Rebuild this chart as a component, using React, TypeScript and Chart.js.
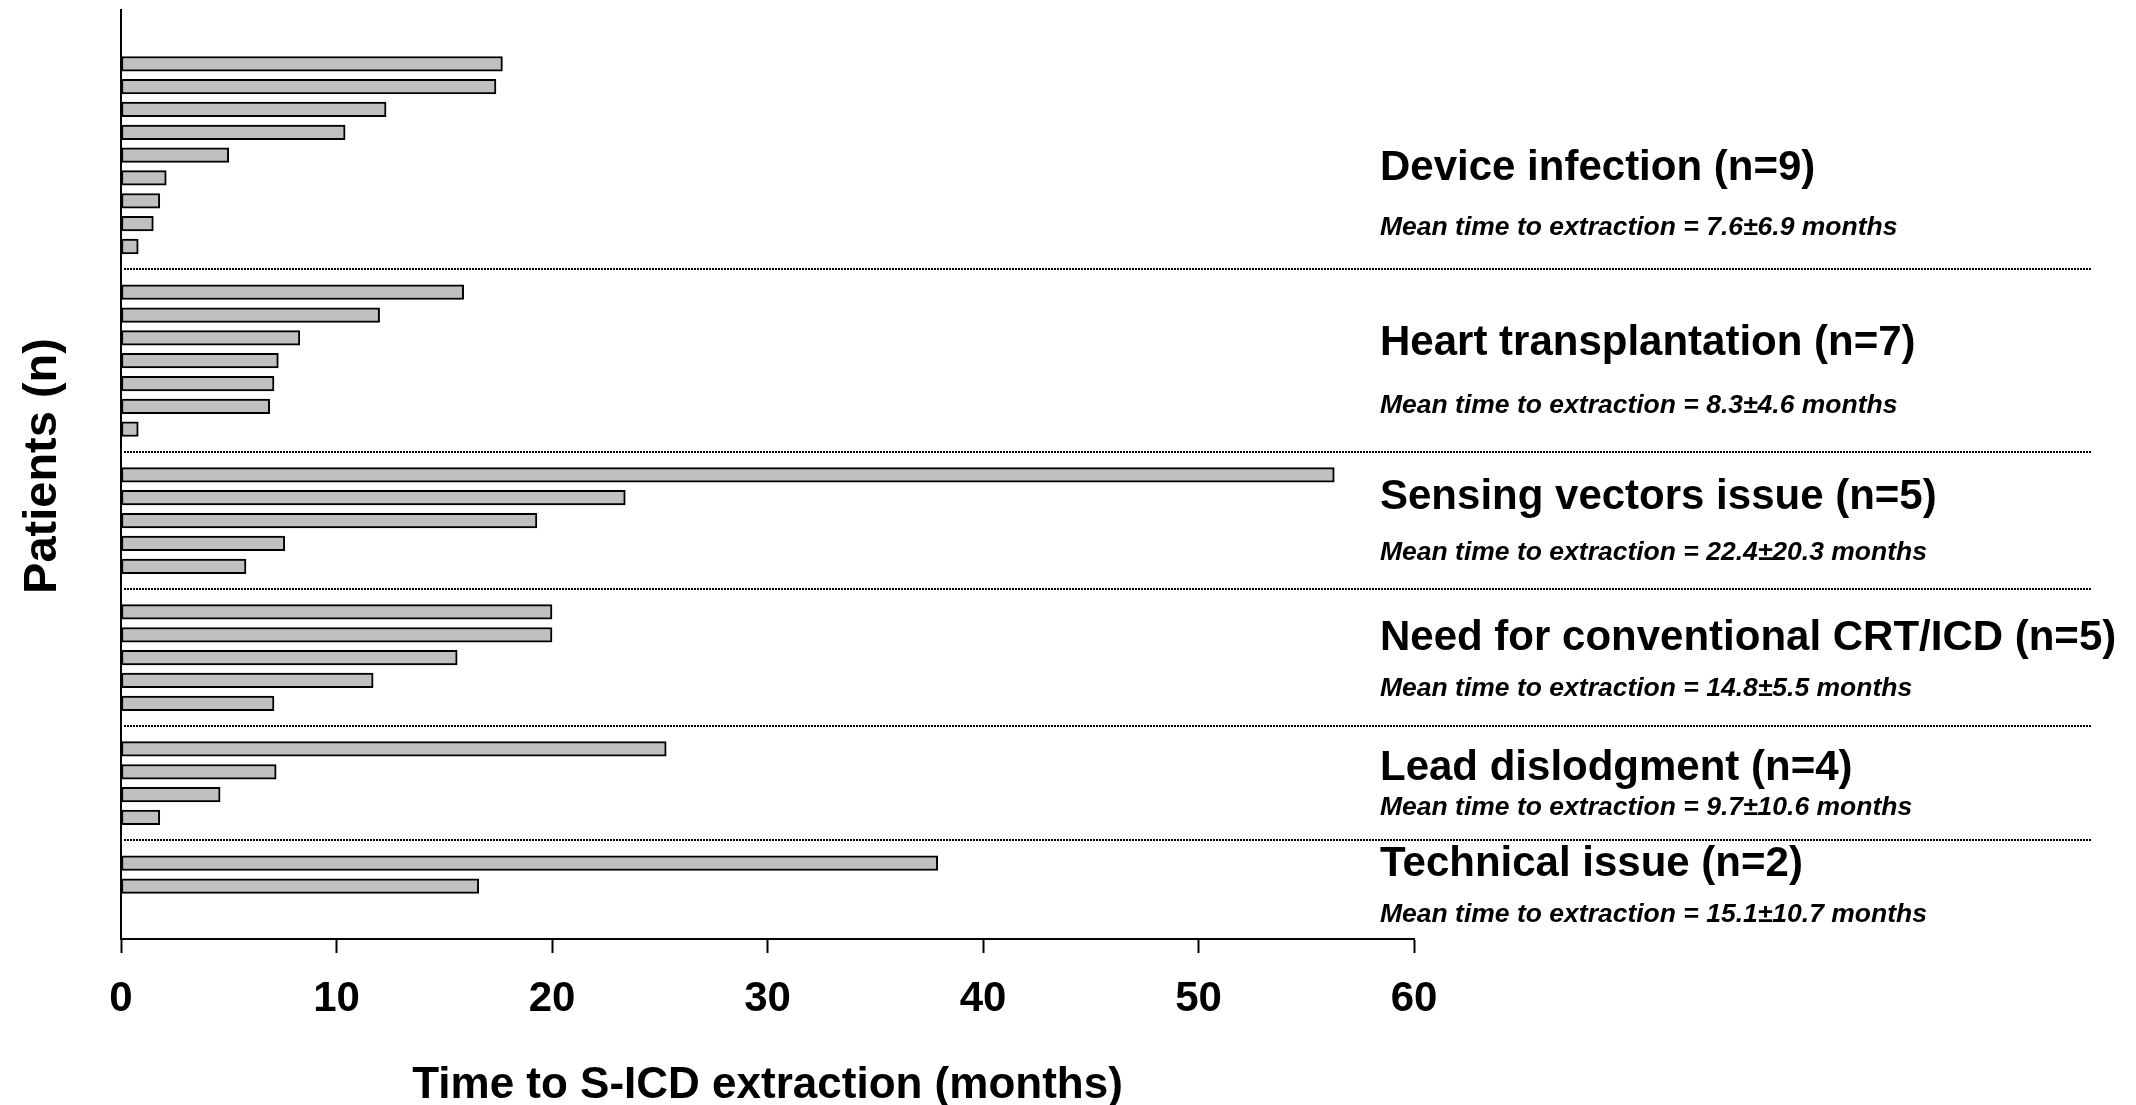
import React, { useEffect, useRef } from "react";
import { Chart, registerables } from "chart.js";

Chart.register(...registerables);

// ---------- data ----------
const groupTitles = [
  "Device infection (n=9)",
  "Heart transplantation (n=7)",
  "Sensing vectors issue (n=5)",
  "Need for conventional CRT/ICD (n=5)",
  "Lead dislodgment (n=4)",
  "Technical issue (n=2)",
];

const meanLabels = [
  "Mean time to extraction = 7.6±6.9 months",
  "Mean time to extraction = 8.3±4.6 months",
  "Mean time to extraction = 22.4±20.3 months",
  "Mean time to extraction = 14.8±5.5 months",
  "Mean time to extraction = 9.7±10.6 months",
  "Mean time to extraction = 15.1±10.7 months",
];

const deviceInfection = [17.7, 17.4, 12.3, 10.4, 5.0, 2.1, 1.8, 1.5, 0.8];
const heartTransplantation = [15.9, 12.0, 8.3, 7.3, 7.1, 6.9, 0.8];
const sensingVectorsIssue = [56.3, 23.4, 19.3, 7.6, 5.8];
const conventionalCrtIcd = [20.0, 20.0, 15.6, 11.7, 7.1];
const leadDislodgment = [25.3, 7.2, 4.6, 1.8];
const technicalIssue = [37.9, 16.6];

const xTickValues = [0, 10, 20, 30, 40, 50, 60];

const xAxisTitle = "Time to S-ICD extraction (months)";
const yAxisTitle = "Patients (n)";

// ---------- layout (not data) ----------
const W = 2136;
const H = 1105;
const PLOT_LEFT = 121;
const PLOT_RIGHT = 1414;
const PLOT_TOP = 10;
const PLOT_BOTTOM = 939;
const ROWS_ABOVE = 2.355;
const ROWS_BELOW = 2.32;
const TEXT_X = 1380;
const SEP_RIGHT = 2092;
const Y_TITLE_X = 43;
const Y_TITLE_Y = 466;
const titleCenterY = [168, 343, 497, 638, 768, 864];
const meanCenterY = [228, 406, 553, 689, 808, 915];
const FONT = "'Liberation Sans', Arial, Helvetica, sans-serif";

const groups = [
  deviceInfection,
  heartTransplantation,
  sensingVectorsIssue,
  conventionalCrtIcd,
  leadDislodgment,
  technicalIssue,
];

function buildRows() {
  const points: { x: number; y: number }[] = [];
  const separators: number[] = [];
  let row = 0;
  groups.forEach((g, gi) => {
    g.forEach((v) => {
      points.push({ x: v, y: row });
      row++;
    });
    if (gi < groups.length - 1) {
      separators.push(row);
      row++;
    }
  });
  return { points, separators, lastRow: row - 1 };
}

export default function App() {
  const canvasRef = useRef<HTMLCanvasElement | null>(null);

  useEffect(() => {
    const canvas = canvasRef.current;
    if (!canvas) return;
    const { points, separators, lastRow } = buildRows();
    const yMin = -ROWS_ABOVE;
    const yMax = lastRow + ROWS_BELOW;

    const annotationPlugin = {
      id: "groupAnnotations",
      afterDraw(chart: any) {
        const { ctx } = chart;
        const ys = chart.scales.y;
        ctx.save();
        // dotted group separators
        ctx.strokeStyle = "#000";
        ctx.lineWidth = 2;
        ctx.setLineDash([2, 1]);
        separators.forEach((r) => {
          const py = Math.round(ys.getPixelForValue(r));
          ctx.beginPath();
          ctx.moveTo(Math.round(chart.chartArea.left) + 3, py);
          ctx.lineTo(SEP_RIGHT, py);
          ctx.stroke();
        });
        ctx.setLineDash([]);
        // group labels
        ctx.fillStyle = "#000";
        ctx.textAlign = "left";
        ctx.textBaseline = "middle";
        groupTitles.forEach((t, i) => {
          ctx.font = `bold 42px ${FONT}`;
          ctx.fillText(t, TEXT_X, titleCenterY[i]);
          ctx.font = `italic bold 26.5px ${FONT}`;
          ctx.fillText(meanLabels[i], TEXT_X, meanCenterY[i]);
        });
        // y axis title
        ctx.translate(Y_TITLE_X, Y_TITLE_Y);
        ctx.rotate(-Math.PI / 2);
        ctx.textAlign = "center";
        ctx.font = `bold 47px ${FONT}`;
        ctx.fillText(yAxisTitle, 0, 0);
        ctx.restore();
      },
    };

    const chart = new Chart(canvas, {
      type: "bar",
      data: {
        datasets: [
          {
            data: points as any,
            backgroundColor: "#c0c0c0",
            borderColor: "#000",
            borderWidth: 2,
            borderSkipped: false,
            barThickness: 14.6,
          } as any,
        ],
      },
      plugins: [annotationPlugin],
      options: {
        animation: false,
        responsive: false,
        devicePixelRatio: 1,
        indexAxis: "y",
        layout: {
          padding: { left: 0, top: PLOT_TOP, right: W - PLOT_RIGHT, bottom: 0 },
        },
        plugins: {
          legend: { display: false },
          tooltip: { enabled: false },
        },
        scales: {
          x: {
            type: "linear",
            position: "bottom",
            min: 0,
            max: 60,
            afterBuildTicks: (s: any) => {
              s.ticks = xTickValues.map((v) => ({ value: v }));
            },
            afterFit: (s: any) => {
              s.height = H - PLOT_BOTTOM;
            },
            grid: {
              display: true,
              drawOnChartArea: false,
              drawTicks: true,
              tickLength: 14,
              tickWidth: 2,
              tickColor: "#000",
            },
            border: { display: true, width: 2, color: "#000" },
            ticks: {
              color: "#000",
              padding: 25,
              maxRotation: 0,
              autoSkip: false,
              font: { family: FONT, size: 42, weight: "bold", lineHeight: 1 },
            },
            title: {
              display: true,
              text: xAxisTitle,
              color: "#000",
              font: { family: FONT, size: 44, weight: "bold", lineHeight: 0.85 },
              padding: { top: 0, bottom: 0 },
            },
          },
          y: {
            type: "linear",
            position: "left",
            reverse: true,
            offset: false,
            min: yMin,
            max: yMax,
            afterBuildTicks: (s: any) => {
              s.min = yMin;
              s.max = yMax;
              s.ticks = [{ value: yMin }, { value: yMax }];
            },
            afterFit: (s: any) => {
              s.width = PLOT_LEFT;
            },
            grid: { display: false, drawTicks: false, offset: false },
            border: { display: true, width: 2, color: "#000" },
            ticks: { display: false },
            title: { display: false, text: yAxisTitle },
          },
        },
      } as any,
    });

    return () => {
      chart.destroy();
    };
  }, []);

  return (
    <div
      style={{
        position: "fixed",
        left: 0,
        top: 0,
        width: W,
        height: H,
        background: "#fff",
      }}
    >
      <canvas ref={canvasRef} width={W} height={H} style={{ width: W, height: H, display: "block" }} />
    </div>
  );
}
